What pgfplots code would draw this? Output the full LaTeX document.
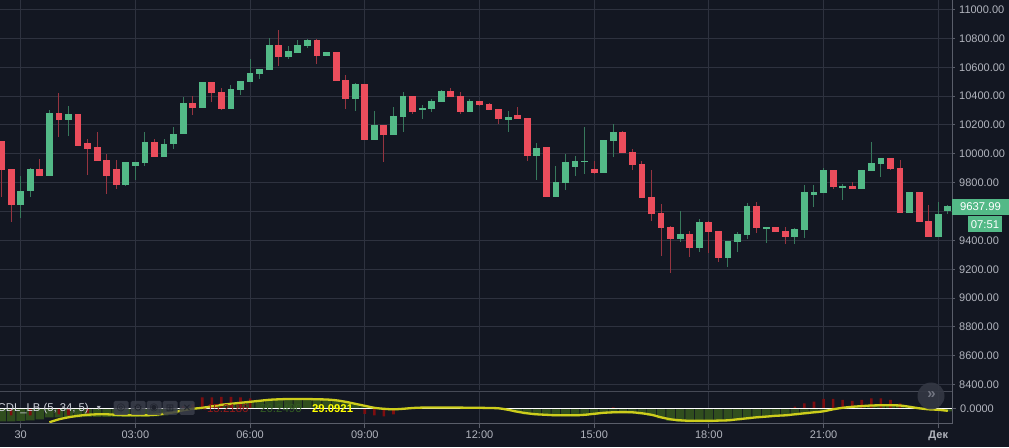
\documentclass[border=0pt]{standalone}
\usepackage{fontspec}
\setmainfont{Liberation Sans}
\newfontfamily\symfont{DejaVu Sans}
\usepackage{pgfplots}
\usepackage{pgfplotstable}
\pgfplotsset{compat=1.18}

\definecolor{bg}{RGB}{19,23,34}
\definecolor{gridc}{RGB}{46,50,63}
\definecolor{sepc}{RGB}{70,74,86}
\definecolor{axc}{RGB}{90,94,106}
\definecolor{txt}{RGB}{178,181,190}
\definecolor{legtxt}{RGB}{209,212,220}
\definecolor{up}{RGB}{83,185,135}
\definecolor{dn}{RGB}{235,77,92}
\definecolor{upw}{RGB}{55,120,92}
\definecolor{dnw}{RGB}{150,52,64}
\definecolor{hg}{RGB}{48,78,30}
\definecolor{hr}{RGB}{125,14,16}
\definecolor{yel}{RGB}{205,205,28}
\definecolor{btn}{RGB}{58,62,74}
\definecolor{btnglyph}{RGB}{30,33,43}
\definecolor{valred}{RGB}{150,26,26}
\definecolor{valgreen}{RGB}{50,92,34}
\definecolor{valyel}{RGB}{255,255,0}
\definecolor{scrollbg}{RGB}{52,56,68}
\definecolor{scrollfg}{RGB}{115,118,130}

% up candles: k open high low close
\pgfplotstableread{
k o h l c
0 9644 9845 9554 9741
1 9741 9901 9702 9894
3 9845 10303 9845 10282
5 10234 10331 10123 10275
11 9783 9942 9776 9942
12 9914 9942 9817 9942
13 9935 10150 9914 10081
15 9977 10102 9977 10067
16 10067 10185 10032 10136
17 10136 10393 10136 10351
19 10317 10497 10317 10497
22 10310 10476 10310 10449
23 10442 10504 10407 10504
24 10497 10657 10497 10560
25 10553 10587 10518 10587
26 10580 10802 10580 10754
28 10671 10747 10657 10712
29 10698 10788 10698 10754
30 10747 10793 10733 10788
32 10677 10705 10677 10705
35 10379 10490 10297 10483
37 10097 10297 10097 10200
39 10131 10324 10131 10262
40 10255 10428 10152 10400
42 10303 10338 10241 10317
43 10310 10379 10290 10366
44 10359 10441 10359 10434
47 10290 10379 10290 10366
51 10234 10297 10152 10255
54 9986 10076 9821 10041
56 9703 9917 9703 9807
57 9800 10000 9752 9945
58 9910 9986 9848 9952
59 9945 10186 9862 9952
61 9869 10097 9869 10097
62 10090 10207 9979 10152
69 9408 9602 9387 9443
71 9346 9547 9320 9526
74 9276 9394 9214 9394
75 9387 9457 9320 9443
76 9436 9657 9408 9637
78 9484 9491 9385 9491
81 9422 9484 9373 9477
82 9470 9782 9415 9734
83 9713 9782 9630 9734
84 9727 9900 9727 9886
86 9768 9789 9680 9775
88 9754 9886 9754 9886
89 9879 10080 9879 9934
90 9928 9969 9837 9969
93 9588 9734 9588 9734
96 9422 9664 9422 9581
97 9602 9644 9586 9637.99
}\upT

% down candles
\pgfplotstableread{
k o h l c
-2 10088 10088 9702 9887
-1 9894 9894 9526 9644
2 9894 9963 9845 9845
4 10282 10421 10116 10234
6 10275 10275 10053 10053
7 10074 10102 9852 10032
8 10046 10150 9949 9949
9 9956 10002 9720 9845
10 9894 9956 9755 9783
14 10081 10102 9977 9977
18 10351 10400 10268 10317
20 10497 10497 10358 10421
21 10428 10456 10303 10310
27 10754 10858 10608 10671
31 10788 10793 10622 10677
33 10705 10705 10505 10507
34 10510 10545 10310 10379
36 10483 10483 10097 10097
38 10200 10200 9945 10131
41 10400 10400 10276 10290
45 10434 10455 10393 10393
46 10400 10428 10276 10290
48 10366 10366 10331 10338
49 10345 10352 10303 10303
50 10310 10310 10207 10241
52 10269 10324 10241 10241
53 10248 10248 9952 9986
55 10048 10048 9703 9703
60 9897 9952 9862 9869
63 10152 10159 10007 10007
64 10014 10035 9890 9924
65 9931 9952 9697 9697
66 9703 9890 9531 9586
67 9593 9650 9290 9485
68 9491 9498 9173 9408
70 9443 9463 9283 9346
72 9526 9533 9313 9457
73 9463 9463 9249 9276
77 9637 9666 9450 9484
79 9491 9491 9457 9457
80 9463 9491 9373 9422
85 9886 9886 9754 9768
87 9775 9803 9754 9754
91 9969 9969 9886 9893
92 9900 9955 9588 9588
94 9734 9734 9526 9526
95 9533 9648 9422 9422
}\dnT

% oscillator histogram: k green red
\pgfplotstableread{
k g r
-2 -13 0
-1 -13 -7
0 -12.5 0
1 -12 -7
2 -11 0
3 -9 0
4 -9 -6
5 -9 -7
6 -9 0
7 -8.5 -5
8 -8.5 0
9 -8.5 0
10 -8.5 0
11 -8.5 0
12 -8.5 0
13 -8.5 0
14 -8 0
15 -7 0
16 -5 0
17 -2.5 2
18 -1 4
19 0.5 11
20 2 11
21 3.5 11.5
22 4.5 11.5
23 5.5 11
24 6.5 10
25 7.5 0
26 8.5 0
27 9 0
28 9.3 0
29 9.3 0
30 9.3 0
31 9 0
32 8.8 0
33 8 0
34 6.5 0
35 4.5 0
36 2 -5.5
37 0.5 -7
38 -0.5 -8
39 -1 -6
40 -0.5 0
41 0.3 0
42 0.6 0
43 0.7 0
44 0.7 0
45 0.7 0
46 0.7 0
47 0.5 0
48 0.5 0
49 0.3 0
50 0 0
51 -2 0
52 -4 0
53 -6 0
54 -7 0
55 -7.5 0
56 -8 0
57 -8 0
58 -8 0
59 -7.5 0
60 -6.5 0
61 -5.5 0
62 -5 1
63 -4.5 0
64 -5 0
65 -6 0
66 -7.5 0
67 -10 0
68 -12.5 0
69 -13.5 0
70 -14 0
71 -14 0
72 -14 0
73 -13.5 0
74 -13 0
75 -12 0
76 -11 0
77 -10 0
78 -9 0
79 -8.5 0
80 -8 0
81 -7 1.7
82 -6 5
83 -5 6.7
84 -3.5 9.3
85 -1.5 9.3
86 0.5 8.3
87 1.5 7.3
88 2.2 8.3
89 2.8 10
90 3 10
91 3 8.3
92 2.8 5
93 1.5 1.7
94 -0.5 0
95 -1.5 0
96 -2 0
97 -3 0
}\histT

% oscillator signal line
\pgfplotstableread{
k y
3 -14
4 -11
5 -9
6 -7.5
7 -6.5
8 -6
9 -6
10 -6.5
11 -7
12 -7
13 -7
14 -6.5
15 -5.5
16 -4
17 -2
18 -0.5
19 0.5
20 2
21 3.5
22 4.5
23 5.5
24 6.5
25 7.5
26 8.5
27 9
28 9.3
29 9.3
30 9.3
31 9
32 8.8
33 8
34 6.5
35 4.5
36 2.5
37 0.5
38 -0.5
39 -1
40 -0.5
41 0.3
42 0.7
43 0.7
44 0.7
45 0.7
46 0.7
47 0.5
48 0.5
49 0.3
50 0
51 -1.5
52 -3.5
53 -5
54 -6
55 -6.5
56 -7
57 -7
58 -7
59 -6.5
60 -5.5
61 -4.5
62 -4
63 -3.8
64 -4
65 -5
66 -6.5
67 -9
68 -11
69 -12
70 -12.5
71 -12.5
72 -12.5
73 -12.3
74 -12
75 -11
76 -10
77 -9
78 -8.3
79 -7.5
80 -7
81 -6
82 -5
83 -4
84 -3
85 -1
86 0.5
87 1.5
88 2.2
89 2.8
90 3
91 3
92 2.8
93 1.5
94 0
95 -1
96 -1.5
97 -2.5
}\sigT

\begin{document}
\begin{tikzpicture}[x=1pt,y=1pt]
\fill[bg] (0,0) rectangle (1009,447);

% ---------------- main price pane ----------------
\begin{axis}[
  at={(0pt,57pt)}, anchor=south west, scale only axis,
  width=952pt, height=390pt,
  xmin=-2.166, xmax=97.44, ymin=8363, ymax=11066,
  axis line style={draw=none},
  xtick={0,12,...,96}, xticklabels={},
  ytick={8400,8600,...,11000},
  scaled y ticks=false,
  ytick pos=right, yticklabel pos=right,
  grid=major, major grid style={gridc, line width=1pt},
  xtick style={draw=none},
  ytick style={axc, line width=1pt},
  major tick length=3pt, tick align=outside,
  yticklabel={\pgfmathparse{abs(\tick-9600)<1 ? 1 : 0}\ifnum\pgfmathresult=1 \else\pgfmathprintnumber{\tick}\fi},
  yticklabel style={font=\fontsize{11}{13}\selectfont, text=txt, anchor=west, inner sep=0pt, xshift=4pt,
    /pgf/number format/fixed, /pgf/number format/fixed zerofill,
    /pgf/number format/precision=2, /pgf/number format/1000 sep={}},
  /pgf/number format/assume math mode=true,
]
% wicks
\addplot[draw=none, mark=none, forget plot,
  error bars/.cd, y dir=both, y explicit, error mark=none,
  error bar style={draw=upw, line width=1pt}]
  table[x=k, y expr={(\thisrow{h}+\thisrow{l})/2}, y error expr={(\thisrow{h}-\thisrow{l})/2}] {\upT};
\addplot[draw=none, mark=none, forget plot,
  error bars/.cd, y dir=both, y explicit, error mark=none,
  error bar style={draw=dnw, line width=1pt}]
  table[x=k, y expr={(\thisrow{h}+\thisrow{l})/2}, y error expr={(\thisrow{h}-\thisrow{l})/2}] {\dnT};
% bodies
\addplot[draw=none, mark=none, forget plot,
  error bars/.cd, y dir=both, y explicit, error mark=none,
  error bar style={draw=up, line width=6.8pt}]
  table[x=k, y expr={(\thisrow{o}+\thisrow{c})/2}, y error expr={max(abs(\thisrow{c}-\thisrow{o})/2,3.6)}] {\upT};
\addplot[draw=none, mark=none, forget plot,
  error bars/.cd, y dir=both, y explicit, error mark=none,
  error bar style={draw=dn, line width=6.8pt}]
  table[x=k, y expr={(\thisrow{o}+\thisrow{c})/2}, y error expr={max(abs(\thisrow{c}-\thisrow{o})/2,3.6)}] {\dnT};
\end{axis}

% ---------------- oscillator pane ----------------
\begin{axis}[
  at={(0pt,23pt)}, anchor=south west, scale only axis,
  width=952pt, height=32pt,
  xmin=-2.166, xmax=97.44, ymin=-15.7, ymax=16.3,
  axis line style={draw=none},
  xtick={0,12,...,96},
  xticklabels={30,03:00,06:00,09:00,12:00,15:00,18:00,21:00,{\bfseries Дек}},
  xtick pos=left, ytick pos=right, yticklabel pos=right,
  ytick={0}, scaled y ticks=false,
  xmajorgrids, major grid style={gridc, line width=1pt},
  xtick style={axc, line width=1pt},
  ytick style={axc, line width=1pt},
  major tick length=4pt, tick align=outside,
  xticklabel style={font=\fontsize{11}{13}\selectfont, text=txt, anchor=north, inner sep=0pt, yshift=-3pt},
  yticklabel style={font=\fontsize{11}{13}\selectfont, text=txt, anchor=west, inner sep=0pt, xshift=4pt,
    /pgf/number format/fixed, /pgf/number format/fixed zerofill,
    /pgf/number format/precision=4},
  /pgf/number format/assume math mode=true,
]
\addplot[ybar, bar width=8.6pt, bar shift=0pt, fill=hg, draw=none, forget plot]
  table[x=k, y=g] {\histT};
\addplot[ybar, bar width=2.6pt, bar shift=0pt, fill=hr, draw=none, forget plot]
  table[x=k, y=r] {\histT};
\addplot[white, line width=1.4pt, mark=none, forget plot] coordinates {(-2.166,0) (97.44,0)};
\addplot[yel, line width=2.3pt, mark=none, smooth, forget plot] table[x=k, y=y] {\sigT};
\end{axis}

% frame lines
\draw[sepc, line width=1pt] (0,447-391.7) -- (952,447-391.7);
\draw[axc, line width=1pt] (0,23) -- (952,23);
\draw[axc, line width=1pt] (952,447) -- (952,23);

% legend of oscillator
\node[anchor=base west, inner sep=0pt, text=legtxt, font=\fontsize{11.3}{13}\selectfont] at (-2.5,447-412) {CDL\_LB (5, 34, 5)};
\node[anchor=center, inner sep=0pt, text=txt, font=\symfont\fontsize{8}{10}\selectfont] at (99,447-408) {▾};
\foreach \xx/\gl in {121/◎,138/⚙,154/◉,170/⊞,187/✕}{
  \fill[rounded corners=1.5pt, fill=btn, opacity=0.85] (\xx-7.5,447-415) rectangle (\xx+7.5,447-401);
  \node[inner sep=0pt, text=btnglyph, font=\symfont\fontsize{10}{12}\selectfont] at (\xx,447-408) {\gl};
}
\node[anchor=base west, inner sep=0pt, text=valred, font=\fontsize{11.5}{13}\selectfont] at (203,447-412.3) {-15.2186};
\node[anchor=base west, inner sep=0pt, text=valgreen, font=\fontsize{11.5}{13}\selectfont] at (260,447-412.3) {20.2490};
\node[anchor=base west, inner sep=0pt, text=valyel, font=\bfseries\fontsize{11.3}{13}\selectfont] at (312,447-412.3) {29.0921};

% last price labels
\fill[up] (952,447-199) rectangle (1009,447-215);
\node[text=white, inner sep=0pt, font=\fontsize{11.3}{13}\selectfont] at (980.5,447-207) {9637.99};
\fill[up] (968,447-216.5) rectangle (1002,447-232);
\node[text=white, inner sep=0pt, font=\fontsize{11.3}{13}\selectfont] at (985,447-224.3) {07:51};

% scroll button
\fill[scrollbg, opacity=0.9] (931,447-396) circle (13.5);
\node[text=scrollfg, inner sep=0pt, font=\bfseries\fontsize{15}{15}\selectfont] at (931.5,447-395) {»};

\pgfresetboundingbox
\useasboundingbox (0,0) rectangle (1009,447);
\end{tikzpicture}
\end{document}
